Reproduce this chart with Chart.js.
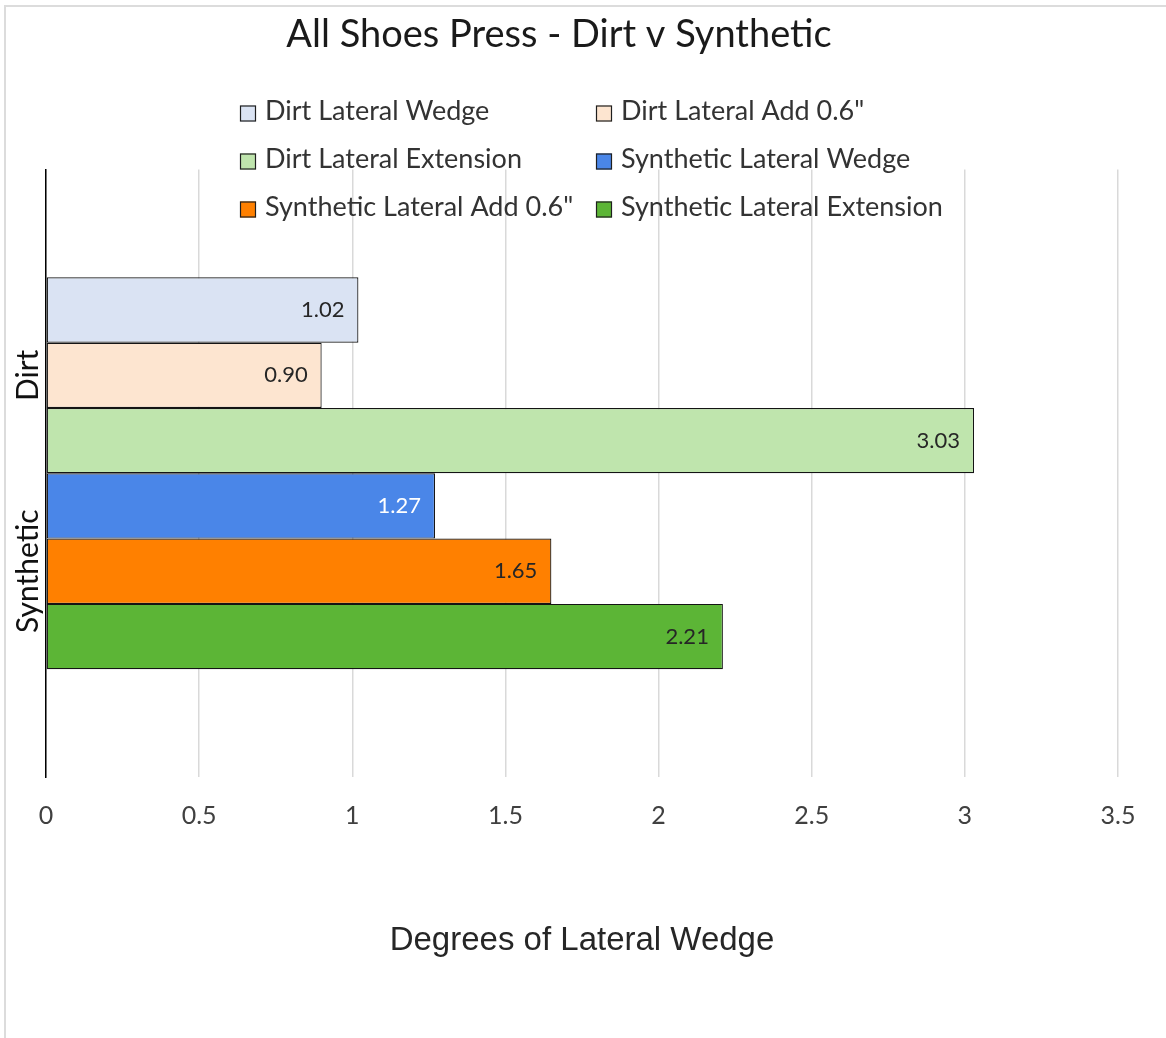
<!DOCTYPE html>
<html>
<head>
<meta charset="utf-8">
<title>All Shoes Press - Dirt v Synthetic</title>
<script src="https://cdn.jsdelivr.net/npm/chart.js@4/dist/chart.umd.min.js"></script>
<style>
  html, body { margin: 0; padding: 0; background: #ffffff; }
  #wrap { position: relative; width: 1166px; height: 1038px; }
</style>
</head>
<body>
<div id="wrap"><canvas id="chart" width="1166" height="1038"></canvas></div>
<script>
// ---- data ----
const categories = ['Dirt', 'Synthetic'];
const seriesNames = [
  'Dirt Lateral Wedge',
  'Dirt Lateral Add 0.6"',
  'Dirt Lateral Extension',
  'Synthetic Lateral Wedge',
  'Synthetic Lateral Add 0.6"',
  'Synthetic Lateral Extension'
];
const dirtLateralWedge          = [1.02, null];
const dirtLateralAdd            = [0.90, null];
const dirtLateralExtension      = [3.03, null];
const syntheticLateralWedge     = [null, 1.27];
const syntheticLateralAdd       = [null, 1.65];
const syntheticLateralExtension = [null, 2.21];
const xAxisMin = 0;
const xAxisMax = 3.5;
const xAxisStep = 0.5;

// ---- styling ----
const seriesValues = [dirtLateralWedge, dirtLateralAdd, dirtLateralExtension,
                      syntheticLateralWedge, syntheticLateralAdd, syntheticLateralExtension];
const seriesFills = ['#dae3f3', '#fde5d0', '#bfe5ad', '#4a86e8', '#ff8000', '#5cb536'];
const valueColors = ['#262626', '#262626', '#262626', '#ffffff', '#262626', '#262626'];
const UI_FONT = 'Lato, "Open Sans", sans-serif';

const datasets = seriesNames.map((name, s) => ({
  label: name,
  data: categories.map((c, i) => ({ y: i, x: seriesValues[s][i] })),
  backgroundColor: seriesFills[s],
  borderColor: '#141414',
  borderWidth: 1.2,
  borderSkipped: false,
  inflateAmount: 0,
  valueColor: valueColors[s]
}));

// light frame along the top and left edges
const framePlugin = {
  id: 'frame',
  beforeDraw(chart) {
    const { ctx, width, height } = chart;
    ctx.save();
    ctx.fillStyle = '#ffffff';
    ctx.fillRect(0, 0, width, height);
    ctx.strokeStyle = '#dcdcdc';
    ctx.lineWidth = 2;
    ctx.beginPath();
    ctx.moveTo(5, height);
    ctx.lineTo(5, 6);
    ctx.lineTo(width, 6);
    ctx.stroke();
    ctx.restore();
  }
};

// rotated category names beside the vertical axis
const categoryLabelPlugin = {
  id: 'categoryLabels',
  afterDraw(chart, args, opts) {
    const { ctx } = chart;
    const yScale = chart.scales.y;
    ctx.save();
    ctx.font = `${opts.size}px ${UI_FONT}`;
    ctx.fillStyle = opts.color;
    ctx.textAlign = 'center';
    ctx.textBaseline = 'middle';
    categories.forEach((label, i) => {
      ctx.save();
      ctx.translate(opts.x, yScale.getPixelForValue(i));
      ctx.rotate(-Math.PI / 2);
      ctx.fillText(label, 0, 0);
      ctx.restore();
    });
    ctx.restore();
  }
};

// value printed inside the end of each bar
const valueLabelPlugin = {
  id: 'valueLabels',
  afterDatasetsDraw(chart, args, opts) {
    const { ctx } = chart;
    ctx.save();
    ctx.font = `${opts.size}px ${UI_FONT}`;
    ctx.textAlign = 'right';
    ctx.textBaseline = 'middle';
    chart.data.datasets.forEach((ds, di) => {
      const meta = chart.getDatasetMeta(di);
      meta.data.forEach((bar, i) => {
        const v = ds.data[i].x;
        if (v === null || v === undefined) return;
        ctx.fillStyle = ds.valueColor;
        ctx.fillText(v.toFixed(2), bar.x - opts.inset, bar.y);
      });
    });
    ctx.restore();
  }
};

// two-column legend
const gridLegendPlugin = {
  id: 'gridLegend',
  afterDraw(chart, args, opts) {
    const { ctx } = chart;
    ctx.save();
    ctx.font = `${opts.size}px ${UI_FONT}`;
    ctx.textAlign = 'left';
    ctx.textBaseline = 'middle';
    chart.data.datasets.forEach((ds, i) => {
      const col = i % opts.columns;
      const row = Math.floor(i / opts.columns);
      const x = opts.left + col * opts.columnWidth;
      const y = opts.top + row * opts.rowHeight;
      ctx.fillStyle = ds.backgroundColor;
      ctx.fillRect(x, y - opts.box / 2 + opts.boxShift, opts.box, opts.box);
      ctx.strokeStyle = '#1f1f1f';
      ctx.lineWidth = 1.2;
      ctx.strokeRect(x + 0.5, y - opts.box / 2 + opts.boxShift + 0.5, opts.box - 1, opts.box - 1);
      ctx.fillStyle = opts.color;
      ctx.fillText(ds.label, x + opts.box + opts.gap, y);
    });
    ctx.restore();
  }
};

new Chart(document.getElementById('chart'), {
  type: 'bar',
  data: { datasets },
  plugins: [framePlugin, categoryLabelPlugin, valueLabelPlugin, gridLegendPlugin],
  options: {
    indexAxis: 'y',
    responsive: false,
    animation: false,
    events: [],
    skipNull: true,
    categoryPercentage: 1,
    barPercentage: 1,
    layout: { padding: { left: 0, right: 48, top: 0, bottom: 77.4 } },
    scales: {
      x: {
        type: 'linear',
        position: 'bottom',
        min: xAxisMin,
        max: xAxisMax,
        ticks: {
          stepSize: xAxisStep,
          padding: 24,
          color: '#404040',
          font: { family: UI_FONT, size: 25 },
          callback: (value) => String(Number(value))
        },
        grid: { color: '#d9d9d9', lineWidth: 1.5, drawTicks: false },
        border: { display: false },
        title: {
          display: true,
          text: 'Degrees of Lateral Wedge',
          color: '#262626',
          font: { family: '"Liberation Sans", Arial, sans-serif', size: 33 },
          padding: { top: 66, bottom: 0 }
        },
        afterFit(scale) { scale.paddingLeft = 0; scale.paddingRight = 0; }
      },
      y: {
        type: 'linear',
        reverse: true,
        offset: false,
        min: -1.05,
        max: 2.05,
        afterBuildTicks(scale) { scale.ticks = categories.map((c, i) => ({ value: i })); },
        ticks: { display: false },
        grid: { display: false, drawTicks: false, offset: false },
        border: { display: true, color: '#000000', width: 1.5 },
        afterFit(scale) { scale.width = 46; scale.paddingTop = 0; scale.paddingBottom = 0; }
      }
    },
    plugins: {
      legend: { display: false },
      tooltip: { enabled: false },
      title: {
        display: true,
        text: 'All Shoes Press - Dirt v Synthetic',
        color: '#1a1a1a',
        font: { family: UI_FONT, size: 38, weight: 'normal' },
        padding: { top: 12, bottom: 112 }
      },
      categoryLabels: { x: 28, size: 30, color: '#111111' },
      valueLabels: { size: 22, inset: 14 },
      gridLegend: {
        columns: 2, left: 240, columnWidth: 356, top: 111.5, rowHeight: 48,
        box: 16, boxShift: 2, gap: 9, size: 27, color: '#333333'
      }
    }
  }
});
</script>
</body>
</html>
